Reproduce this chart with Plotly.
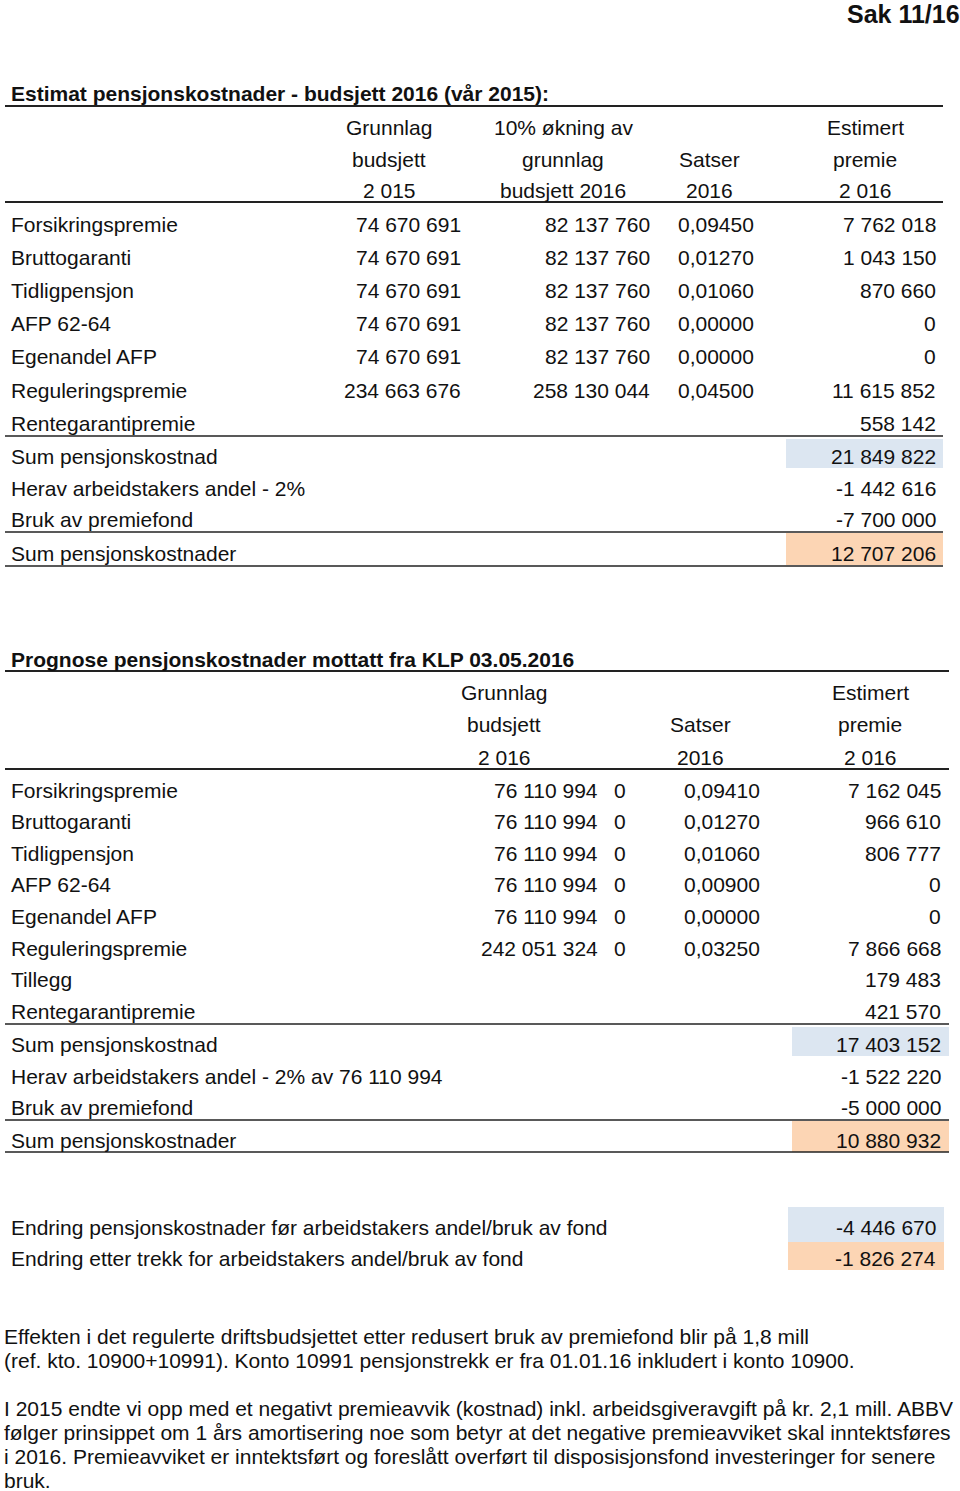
import plotly.graph_objects as go

# ---------------- data ----------------
page_label = "Sak 11/16"

title1 = "Estimat pensjonskostnader - budsjett 2016 (vår 2015):"
headers1 = [["Grunnlag", "budsjett", "2 015"],
            ["10% økning av", "grunnlag", "budsjett 2016"],
            ["", "Satser", "2016"],
            ["Estimert", "premie", "2 016"]]
labels1 = ["Forsikringspremie", "Bruttogaranti", "Tidligpensjon", "AFP 62-64",
           "Egenandel AFP", "Reguleringspremie", "Rentegarantipremie"]
grunnlag1 = [74670691, 74670691, 74670691, 74670691, 74670691, 234663676, None]
okning1 = [82137760, 82137760, 82137760, 82137760, 82137760, 258130044, None]
satser1 = [0.09450, 0.01270, 0.01060, 0.00000, 0.00000, 0.04500, None]
premie1 = [7762018, 1043150, 870660, 0, 0, 11615852, 558142]
sum_labels1 = ["Sum pensjonskostnad", "Herav arbeidstakers andel - 2%",
               "Bruk av premiefond", "Sum pensjonskostnader"]
sum_values1 = [21849822, -1442616, -7700000, 12707206]

title2 = "Prognose pensjonskostnader mottatt fra KLP 03.05.2016"
headers2 = [["Grunnlag", "budsjett", "2 016"],
            ["", "Satser", "2016"],
            ["Estimert", "premie", "2 016"]]
labels2 = ["Forsikringspremie", "Bruttogaranti", "Tidligpensjon", "AFP 62-64",
           "Egenandel AFP", "Reguleringspremie", "Tillegg", "Rentegarantipremie"]
grunnlag2 = [76110994, 76110994, 76110994, 76110994, 76110994, 242051324, None, None]
extra2 = [0, 0, 0, 0, 0, 0, None, None]
satser2 = [0.09410, 0.01270, 0.01060, 0.00900, 0.00000, 0.03250, None, None]
premie2 = [7162045, 966610, 806777, 0, 0, 7866668, 179483, 421570]
sum_labels2 = ["Sum pensjonskostnad", "Herav arbeidstakers andel - 2% av 76 110 994",
               "Bruk av premiefond", "Sum pensjonskostnader"]
sum_values2 = [17403152, -1522220, -5000000, 10880932]

change_labels = ["Endring pensjonskostnader før arbeidstakers andel/bruk av fond",
                 "Endring etter trekk for arbeidstakers andel/bruk av fond"]
change_values = [-4446670, -1826274]

paragraphs = [
    ["Effekten i det regulerte driftsbudsjettet etter redusert bruk av premiefond blir på 1,8 mill",
     "(ref. kto. 10900+10991). Konto 10991 pensjonstrekk er fra 01.01.16 inkludert i konto 10900."],
    ["I 2015 endte vi opp med et negativt premieavvik (kostnad) inkl. arbeidsgiveravgift på kr. 2,1 mill. ABBV",
     "følger prinsippet om 1 års amortisering noe som betyr at det negative premieavviket skal inntektsføres",
     "i 2016. Premieavviket er inntektsført og foreslått overført til disposisjonsfond investeringer for senere",
     "bruk."],
]

# ---------------- style ----------------
W, H = 960, 1491
FONT = "Liberation Sans, Arial, Helvetica, sans-serif"
FS = 21
TXT = "#111111"
BLUE = "#dce6f1"
ORANGE = "#fcd5b4"
LINE = "#222222"


def fmt_int(v):
    if v is None:
        return ""
    s = f"{abs(int(v)):,}".replace(",", " ")
    return ("-" if v < 0 else "") + s


def fmt_rate(v):
    if v is None:
        return ""
    return f"{v:.5f}".replace(".", ",")


annotations = []
shapes = []


def text(x, y, s, anchor="left", size=FS, bold=False):
    if not s:
        return
    annotations.append(dict(
        x=x, y=y, xref="x", yref="y", text=f"<b>{s}</b>" if bold else s,
        showarrow=False, xanchor=anchor, yanchor="middle", borderpad=0, borderwidth=0,
        font=dict(family=FONT, size=size, color=TXT)))


def hline(y, x0, x1, w=1.5):
    shapes.append(dict(type="line", xref="x", yref="y", x0=x0, x1=x1, y0=y, y1=y,
                       line=dict(color=LINE, width=w)))


def box(x0, x1, y0, y1, color):
    shapes.append(dict(type="rect", xref="x", yref="y", x0=x0, x1=x1, y0=y0, y1=y1,
                       fillcolor=color, line=dict(width=0), layer="below"))


LX = 11
text(960, 14, page_label, anchor="right", size=25, bold=True)

# ---------------- table 1 ----------------
text(LX, 93, title1, bold=True)
hline(106, 5, 943, 2)
hy1 = [127, 159, 190]
hx1 = [389, 563, 709, 865]
for col, hx in zip(headers1, hx1):
    for s, y in zip(col, hy1):
        text(hx, y, s, anchor="center")
hline(202, 5, 943, 2)

row_h1 = 33.2
y0_1 = 224
for i, lab in enumerate(labels1):
    y = y0_1 + i * row_h1
    text(LX, y, lab)
    text(461, y, fmt_int(grunnlag1[i]), anchor="right")
    text(650, y, fmt_int(okning1[i]), anchor="right")
    text(678, y, fmt_rate(satser1[i]), anchor="left")
    text(936, y, fmt_int(premie1[i]), anchor="right")
hline(436, 5, 943)

sum_y1 = [456, 488, 519, 553]
box(786, 943, 439, 468, BLUE)
box(786, 943, 533, 565, ORANGE)
for lab, v, y in zip(sum_labels1, sum_values1, sum_y1):
    text(LX, y, lab)
    text(936, y, fmt_int(v), anchor="right")
hline(532, 5, 943)
hline(566, 5, 943)

# ---------------- table 2 ----------------
text(LX, 659, title2, bold=True)
hline(671, 5, 949, 2)
hy2 = [692, 724, 757]
hx2 = [504, 700, 870]
for col, hx in zip(headers2, hx2):
    for s, y in zip(col, hy2):
        text(hx, y, s, anchor="center")
hline(769, 5, 949, 2)

row_h2 = 31.6
y0_2 = 790
for i, lab in enumerate(labels2):
    y = y0_2 + i * row_h2
    text(LX, y, lab)
    text(598, y, fmt_int(grunnlag2[i]), anchor="right")
    text(620, y, fmt_int(extra2[i]), anchor="center")
    text(684, y, fmt_rate(satser2[i]), anchor="left")
    text(941, y, fmt_int(premie2[i]), anchor="right")
hline(1024, 5, 949)

sum_y2 = [1044, 1076, 1107, 1140]
box(792, 949, 1027, 1056, BLUE)
box(792, 949, 1121, 1152, ORANGE)
for lab, v, y in zip(sum_labels2, sum_values2, sum_y2):
    text(LX, y, lab)
    text(941, y, fmt_int(v), anchor="right")
hline(1120, 5, 949)
hline(1152, 5, 949)

# ---------------- change rows ----------------
box(788, 944, 1207, 1242, BLUE)
box(788, 944, 1242, 1270, ORANGE)
for lab, v, y in zip(change_labels, change_values, [1227, 1258]):
    text(LX, y, lab)
    text(936, y, fmt_int(v), anchor="right")

# ---------------- paragraphs ----------------
para_starts = [1336, 1408]
for lines, ys in zip(paragraphs, para_starts):
    for k, s in enumerate(lines):
        text(4, ys + k * 24, s)

fig = go.Figure()
fig.update_layout(
    width=W, height=H,
    margin=dict(l=0, r=0, t=0, b=0),
    paper_bgcolor="white", plot_bgcolor="white",
    xaxis=dict(range=[0, W], visible=False, fixedrange=True),
    yaxis=dict(range=[H, 0], visible=False, fixedrange=True),
    annotations=annotations, shapes=shapes,
    showlegend=False,
)
fig.write_html(
    "out.html",
    config={"displayModeBar": False},
    post_script="document.body.style.margin='0';document.body.style.overflow='hidden';",
)
